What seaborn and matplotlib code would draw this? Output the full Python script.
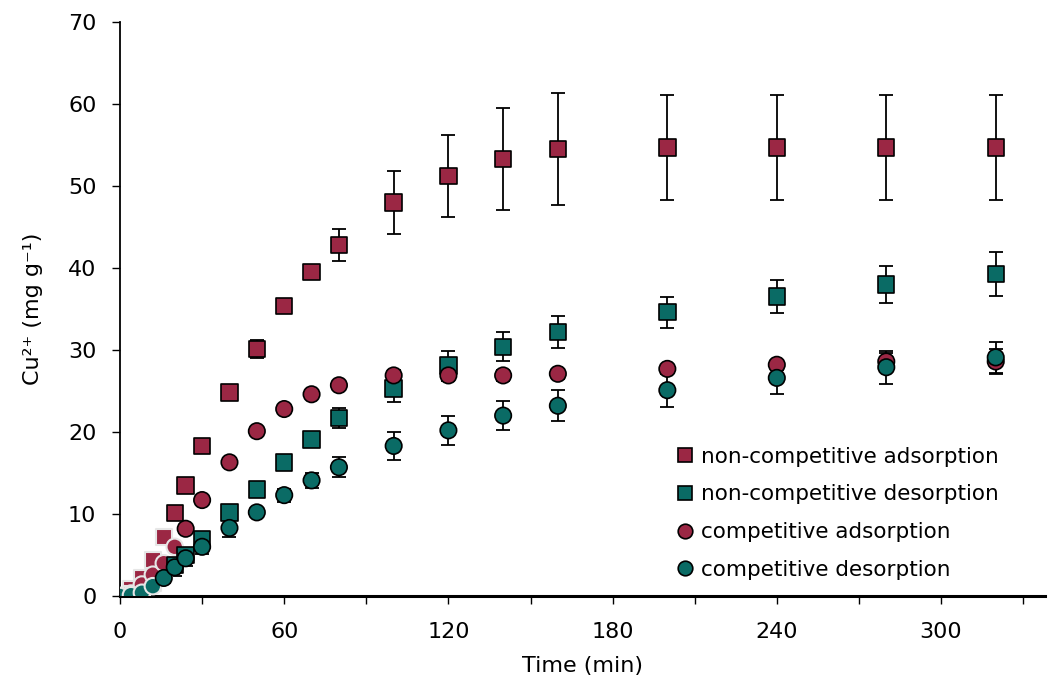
import numpy as np
import pandas as pd
import matplotlib
matplotlib.use("Agg")
import matplotlib.pyplot as plt
import seaborn as sns

# ---- data ----
time = [0, 4, 8, 12, 16, 20, 24, 30, 40, 50, 60, 70, 80, 100, 120, 140, 160, 200, 240, 280, 320]

nc_ads = [0.0, 0.8, 2.2, 4.4, 7.2, 10.1, 13.5, 18.3, 24.8, 30.1, 35.4, 39.5, 42.8, 48.0, 51.2, 53.3, 54.5, 54.7, 54.7, 54.7, 54.7]
nc_ads_err = [0, 0, 0, 0, 0, 0, 0, 0, 0, 1.1, 0.3, 0.4, 1.9, 3.8, 5.0, 6.2, 6.8, 6.4, 6.4, 6.4, 6.4]

nc_des = [0.0, 0.2, 0.6, 1.6, 2.8, 3.8, 5.0, 6.9, 10.2, 13.0, 16.3, 19.1, 21.7, 25.3, 28.1, 30.4, 32.2, 34.6, 36.5, 38.0, 39.3]
nc_des_err = [0, 0, 0.3, 0.4, 0.5, 0.6, 0.8, 0.6, 0.3, 0.3, 0.4, 0.7, 1.2, 1.6, 1.8, 1.8, 1.9, 1.9, 2.0, 2.3, 2.7]

c_ads = [0.0, 0.3, 1.4, 2.6, 4.0, 6.0, 8.2, 11.7, 16.3, 20.1, 22.8, 24.6, 25.7, 26.9, 26.9, 26.9, 27.1, 27.7, 28.2, 28.6, 28.6]
c_ads_err = [0, 0, 0, 0, 0, 0, 0, 0, 0, 0, 0, 0, 0, 0.7, 0.7, 0.7, 0.6, 0.5, 0.6, 1.0, 1.5]

c_des = [0.0, 0.1, 0.4, 1.2, 2.2, 3.5, 4.6, 6.0, 8.3, 10.2, 12.3, 14.1, 15.7, 18.3, 20.2, 22.0, 23.2, 25.1, 26.6, 27.9, 29.1]
c_des_err = [0, 0, 0.3, 0.4, 0.6, 1.0, 1.0, 0.9, 1.1, 0.4, 0.8, 0.9, 1.2, 1.7, 1.8, 1.8, 1.9, 2.0, 2.0, 2.0, 1.9]

labels = ["non-competitive adsorption", "non-competitive desorption",
          "competitive adsorption", "competitive desorption"]
series = [nc_ads, nc_des, c_ads, c_des]
errors = [nc_ads_err, nc_des_err, c_ads_err, c_des_err]
fade_until = [16, 16, 20, 12]

x_ticks = [0, 60, 120, 180, 240, 300]
y_ticks = [0, 10, 20, 30, 40, 50, 60, 70]

crimson = "#9B2744"
teal = "#0A6B65"
colors = [crimson, teal, crimson, teal]
markers = ["s", "s", "o", "o"]

rows = []
for lab, vals, errs, fu in zip(labels, series, errors, fade_until):
    for t, v, e in zip(time, vals, errs):
        rows.append({"Time": t, "Cu": v, "err": e, "series": lab, "faded": t <= fu})
df = pd.DataFrame(rows)

sns.set_theme(style="ticks")
plt.rcParams['font.family'] = ['DejaVu Sans']
plt.rcParams['text.color'] = 'black'
plt.rcParams['axes.labelcolor'] = 'black'
plt.rcParams['xtick.color'] = 'black'
plt.rcParams['ytick.color'] = 'black'

fig = plt.figure(figsize=(10.51, 6.81), dpi=100)
ax = fig.add_axes([120/1051, 85/681, 925/1051, 574/681])

palette = dict(zip(labels, colors))
markmap = dict(zip(labels, markers))

# error bars (behind markers)
for lab in labels:
    sub = df[(df.series == lab) & (df.err > 0)]
    for faded, ec in [(False, "black"), (True, "white")]:
        s2 = sub[sub.faded == faded]
        if len(s2):
            ax.errorbar(s2.Time, s2.Cu, yerr=s2.err, fmt="none", ecolor=ec,
                        elinewidth=1.3, capsize=4.8, capthick=1.3, zorder=2)

# markers: faded (early) points with light edges, then the rest
sns.scatterplot(data=df[df.faded], x="Time", y="Cu", hue="series", style="series",
                palette=palette, markers=markmap, s=140, edgecolor="#e6e6e6",
                linewidth=1.5, ax=ax, legend=False, zorder=3)
sns.scatterplot(data=df[~df.faded], x="Time", y="Cu", hue="series", style="series",
                palette=palette, markers=markmap, s=140, edgecolor="black",
                linewidth=1.2, ax=ax, legend=True, zorder=4)

ax.set_xlim(0, 338)
ax.set_ylim(0, 70)
ax.set_xticks(x_ticks)
ax.set_xticks(np.arange(30, 338, 60), minor=True)
ax.set_yticks(y_ticks)
ax.tick_params(axis="both", which="major", labelsize=16, length=6, width=1, color="black",
               labelcolor="black", direction="out")
ax.tick_params(axis="x", which="minor", length=6, width=1, color="black", direction="out")
ax.tick_params(axis="x", which="major", pad=13)
ax.tick_params(axis="y", which="major", pad=11)
for sp in ["top", "right"]:
    ax.spines[sp].set_visible(False)
ax.spines["left"].set_linewidth(1.3)
ax.spines["left"].set_color("black")
ax.spines["bottom"].set_linewidth(2.2)
ax.spines["bottom"].set_color("black")

ax.set_xlabel("Time (min)", fontsize=16, labelpad=10, color="black")
ax.set_ylabel("Cu\u00b2\u207a (mg g\u207b\u00b9)", fontsize=16, labelpad=18, color="black")

leg = ax.legend(loc="upper left", bbox_to_anchor=(0.590, 0.275), frameon=False,
                fontsize=15.5, labelspacing=0.82, handlelength=1.0, handletextpad=0.25,
                borderaxespad=0, labelcolor="black")
for h in leg.legend_handles:
    if hasattr(h, "set_markeredgecolor"):
        h.set_markeredgecolor("black")
        h.set_markersize(10.5)
    elif hasattr(h, "set_edgecolor"):
        h.set_edgecolor("black")

fig.savefig("out.png", dpi=100)
